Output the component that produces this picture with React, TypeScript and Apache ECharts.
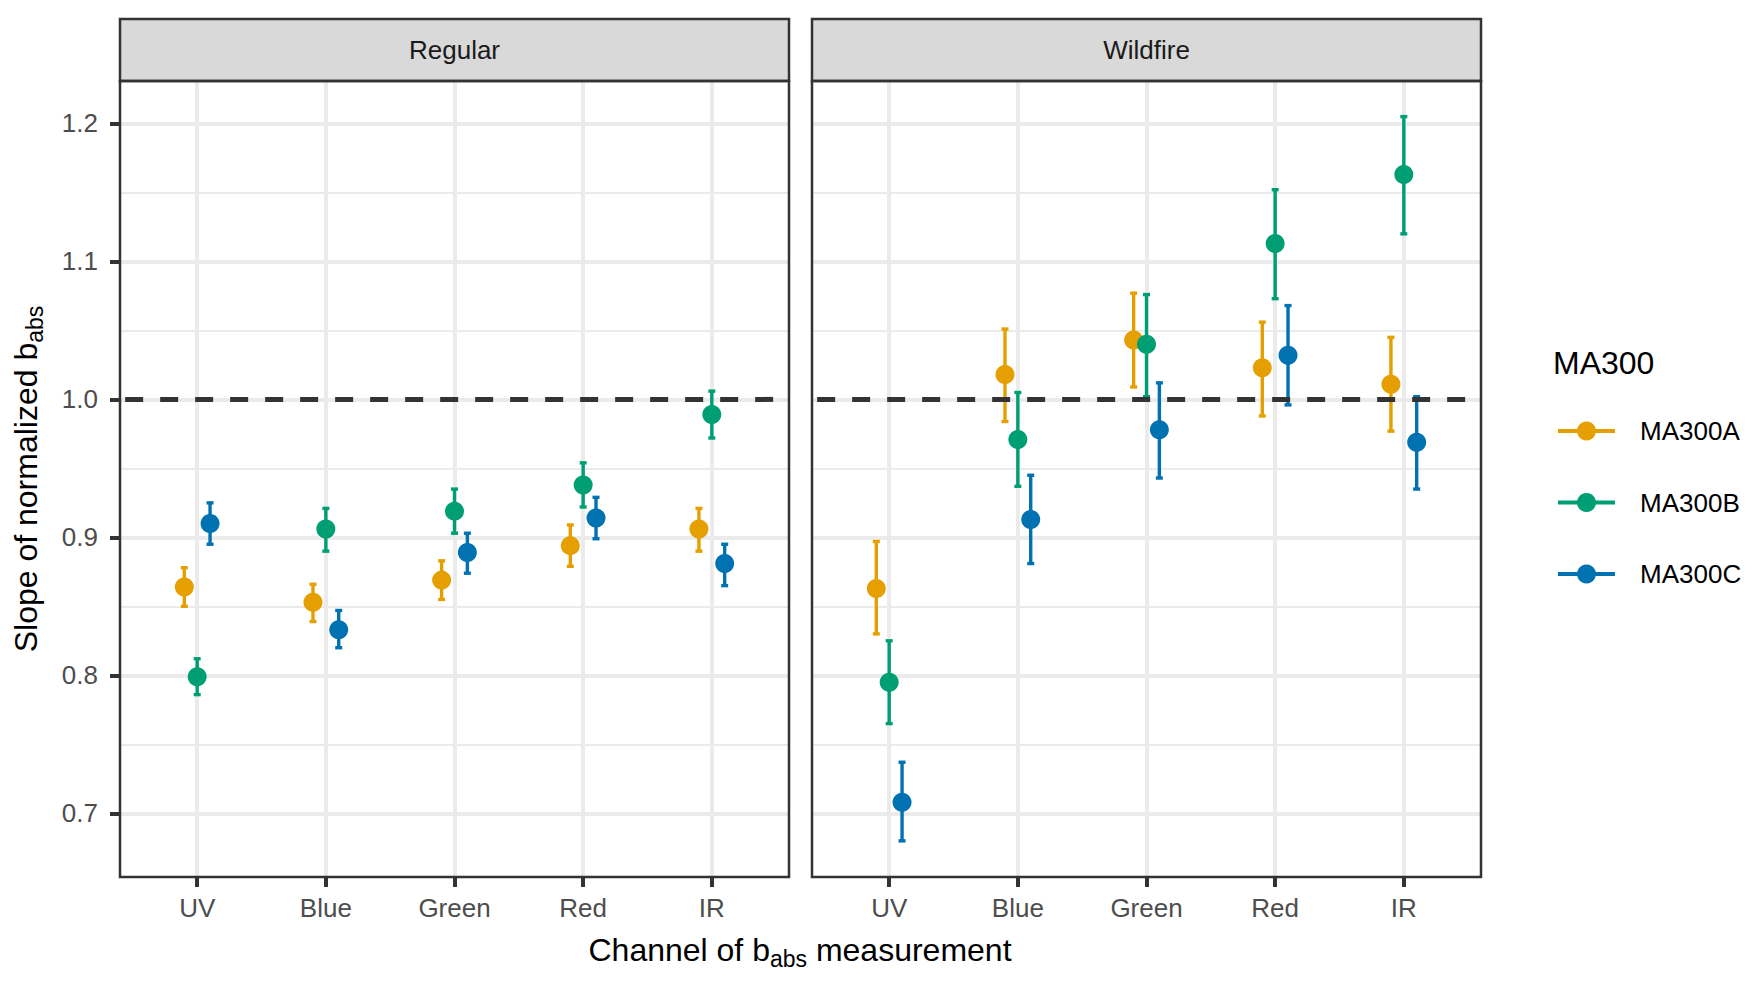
import React, { useEffect, useRef } from "react";
import * as echarts from "echarts";

const categories = ["UV", "Blue", "Green", "Red", "IR"];
const panels = ["Regular", "Wildfire"];
const instruments = ["MA300A", "MA300B", "MA300C"];
const colors = ["#E69F00", "#009E73", "#0072B2"];
const dodge = [-0.1, 0, 0.1];
const yMajorTicks = [0.7, 0.8, 0.9, 1.0, 1.1, 1.2];
const yMinorTicks = [0.75, 0.85, 0.95, 1.05, 1.15];
const referenceLine = 1.0;

// Regular panel
const regularASlope = [0.864, 0.853, 0.869, 0.894, 0.906];
const regularALower = [0.850, 0.839, 0.855, 0.879, 0.890];
const regularAUpper = [0.878, 0.866, 0.883, 0.909, 0.921];
const regularBSlope = [0.799, 0.906, 0.919, 0.938, 0.989];
const regularBLower = [0.786, 0.890, 0.903, 0.922, 0.972];
const regularBUpper = [0.812, 0.921, 0.935, 0.954, 1.006];
const regularCSlope = [0.910, 0.833, 0.889, 0.914, 0.881];
const regularCLower = [0.895, 0.820, 0.874, 0.899, 0.865];
const regularCUpper = [0.925, 0.847, 0.903, 0.929, 0.895];

// Wildfire panel
const wildfireASlope = [0.863, 1.018, 1.043, 1.023, 1.011];
const wildfireALower = [0.830, 0.984, 1.009, 0.988, 0.977];
const wildfireAUpper = [0.897, 1.051, 1.077, 1.056, 1.045];
const wildfireBSlope = [0.795, 0.971, 1.040, 1.113, 1.163];
const wildfireBLower = [0.765, 0.937, 1.002, 1.073, 1.120];
const wildfireBUpper = [0.825, 1.005, 1.076, 1.152, 1.205];
const wildfireCSlope = [0.708, 0.913, 0.978, 1.032, 0.969];
const wildfireCLower = [0.680, 0.881, 0.943, 0.996, 0.935];
const wildfireCUpper = [0.737, 0.945, 1.012, 1.068, 1.002];

const panelData = [
  [
    [regularASlope, regularALower, regularAUpper],
    [regularBSlope, regularBLower, regularBUpper],
    [regularCSlope, regularCLower, regularCUpper],
  ],
  [
    [wildfireASlope, wildfireALower, wildfireAUpper],
    [wildfireBSlope, wildfireBLower, wildfireBUpper],
    [wildfireCSlope, wildfireCLower, wildfireCUpper],
  ],
];

const FONT = "'Liberation Sans', Arial, Helvetica, sans-serif";
const Y_MIN = 0.6538;
const Y_MAX = 1.2308;
const X_MIN = -0.6;
const X_MAX = 4.6;

const GRID_TOP = 81;
const GRID_H = 796;
const GRID_W = 669;
const GRID_LEFTS = [120, 812];

export default function App() {
  const ref = useRef<HTMLDivElement>(null);

  useEffect(() => {
    document.body.style.margin = "0";
    const chart = echarts.init(ref.current!, null, { renderer: "svg" });

    const grids = GRID_LEFTS.map((left) => ({
      left,
      top: GRID_TOP,
      width: GRID_W,
      height: GRID_H,
      show: false,
      containLabel: false,
    }));

    const xAxes = panels.map((_, p) => ({
      type: "value",
      gridIndex: p,
      min: X_MIN,
      max: X_MAX,
      position: "bottom",
      axisLine: { show: false, onZero: false },
      axisTick: {
        show: true,
        length: 10,
        customValues: categories.map((_, k) => k),
        lineStyle: { color: "#333333", width: 4 },
      },
      axisLabel: {
        show: true,
        customValues: categories.map((_, k) => k),
        formatter: (v: number) => categories[Math.round(v)] ?? "",
        color: "#4D4D4D",
        fontSize: 26,
        fontFamily: FONT,
        margin: 18,
      },
      splitLine: { show: true, lineStyle: { color: "#EBEBEB", width: 4 } },
    }));

    const yAxes: any[] = [];
    panels.forEach((_, p) => {
      yAxes.push({
        type: "value",
        gridIndex: p,
        min: Y_MIN,
        max: Y_MAX,
        position: "left",
        axisLine: { show: false, onZero: false },
        axisTick: {
          show: p === 0,
          length: 10,
          customValues: yMajorTicks,
          lineStyle: { color: "#333333", width: 4 },
        },
        axisLabel: {
          show: p === 0,
          customValues: yMajorTicks,
          formatter: (v: number) => v.toFixed(1),
          color: "#4D4D4D",
          fontSize: 26,
          fontFamily: FONT,
          margin: 22,
        },
        splitLine: { show: true, lineStyle: { color: "#EBEBEB", width: 4 } },
      });
      yAxes.push({
        type: "value",
        gridIndex: p,
        min: Y_MIN,
        max: Y_MAX,
        position: "right",
        axisLine: { show: false, onZero: false },
        axisTick: { show: false, customValues: yMinorTicks },
        axisLabel: { show: false, customValues: yMinorTicks },
        splitLine: { show: true, lineStyle: { color: "#EBEBEB", width: 2 } },
      });
    });

    const series: any[] = [];
    panels.forEach((_, p) => {
      instruments.forEach((name, i) => {
        const [slope, lower, upper] = panelData[p][i];
        series.push({
          type: "custom",
          name,
          xAxisIndex: p,
          yAxisIndex: 2 * p,
          z: 3,
          silent: true,
          encode: { x: 0, y: [1, 2] },
          data: categories.map((_, k) => [k + dodge[i], lower[k], upper[k]]),
          renderItem: (params: any, api: any) => {
            const x = api.value(0);
            const top = api.coord([x, api.value(2)]);
            const bot = api.coord([x, api.value(1)]);
            const hw = 3.5;
            const style = { stroke: colors[i], lineWidth: 3.4, fill: "none" };
            return {
              type: "group",
              children: [
                { type: "line", shape: { x1: top[0], y1: top[1], x2: bot[0], y2: bot[1] }, style },
                { type: "line", shape: { x1: top[0] - hw, y1: top[1], x2: top[0] + hw, y2: top[1] }, style },
                { type: "line", shape: { x1: bot[0] - hw, y1: bot[1], x2: bot[0] + hw, y2: bot[1] }, style },
              ],
            };
          },
        });
        series.push({
          type: "scatter",
          name,
          xAxisIndex: p,
          yAxisIndex: 2 * p,
          z: 4,
          symbol: "circle",
          symbolSize: 19,
          silent: true,
          itemStyle: { color: colors[i], opacity: 1 },
          data: categories.map((_, k) => [k + dodge[i], slope[k]]),
        });
      });
      series.push({
        type: "line",
        xAxisIndex: p,
        yAxisIndex: 2 * p,
        z: 5,
        silent: true,
        showSymbol: false,
        symbol: "none",
        lineStyle: { color: "#333333", width: 5, type: [18, 17] },
        data: [
          [X_MIN + 0.04, referenceLine],
          [X_MAX - 0.04, referenceLine],
        ],
      });
    });

    const graphics: any[] = [];
    GRID_LEFTS.forEach((left, p) => {
      graphics.push({
        type: "rect",
        shape: { x: left, y: 19, width: GRID_W, height: GRID_TOP - 19 },
        style: { fill: "#D9D9D9", stroke: "#333333", lineWidth: 2.5 },
        z: 10,
      });
      graphics.push({
        type: "text",
        x: left + GRID_W / 2,
        y: 50,
        style: {
          text: panels[p],
          fontSize: 26,
          fontFamily: FONT,
          fill: "#1A1A1A",
          align: "center",
          verticalAlign: "middle",
        },
        z: 11,
      });
      graphics.push({
        type: "rect",
        shape: { x: left, y: GRID_TOP, width: GRID_W, height: GRID_H },
        style: { fill: "none", stroke: "#333333", lineWidth: 2.5 },
        z: 10,
      });
    });

    // axis titles
    graphics.push({
      type: "text",
      x: 800,
      y: 950,
      style: {
        text: "{a|Channel of b}{s|abs}{a| measurement}",
        align: "center",
        verticalAlign: "middle",
        rich: {
          a: { fontSize: 32, fontFamily: FONT, fill: "#000000", lineHeight: 40 },
          s: { fontSize: 23, fontFamily: FONT, fill: "#000000", lineHeight: 24, verticalAlign: "bottom" },
        },
      },
      z: 11,
    });
    graphics.push({
      type: "text",
      x: 26,
      y: 479,
      rotation: Math.PI / 2,
      style: {
        text: "{a|Slope of normalized b}{s|abs}",
        align: "center",
        verticalAlign: "middle",
        rich: {
          a: { fontSize: 32, fontFamily: FONT, fill: "#000000", lineHeight: 40 },
          s: { fontSize: 23, fontFamily: FONT, fill: "#000000", lineHeight: 24, verticalAlign: "bottom" },
        },
      },
      z: 11,
    });

    // legend
    graphics.push({
      type: "text",
      x: 1553,
      y: 363,
      style: {
        text: "MA300",
        fontSize: 32,
        fontFamily: FONT,
        fill: "#000000",
        align: "left",
        verticalAlign: "middle",
      },
      z: 11,
    });
    instruments.forEach((name, i) => {
      const cy = 431 + 71.5 * i;
      graphics.push({
        type: "line",
        shape: { x1: 1558, y1: cy, x2: 1615, y2: cy },
        style: { stroke: colors[i], lineWidth: 4 },
        z: 11,
      });
      graphics.push({
        type: "circle",
        shape: { cx: 1586.5, cy, r: 9.5 },
        style: { fill: colors[i] },
        z: 12,
      });
      graphics.push({
        type: "text",
        x: 1640,
        y: cy,
        style: {
          text: name,
          fontSize: 26,
          fontFamily: FONT,
          fill: "#000000",
          align: "left",
          verticalAlign: "middle",
        },
        z: 11,
      });
    });

    chart.setOption({
      animation: false,
      backgroundColor: "#FFFFFF",
      grid: grids,
      xAxis: xAxes,
      yAxis: yAxes,
      series,
      graphic: graphics,
    });

    return () => chart.dispose();
  }, []);

  return (
    <div
      ref={ref}
      style={{ position: "fixed", left: 0, top: 0, width: 1754, height: 983 }}
    />
  );
}
